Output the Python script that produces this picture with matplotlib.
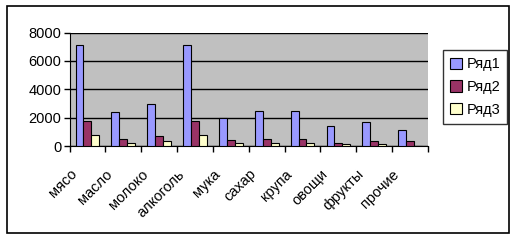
import matplotlib
matplotlib.use("Agg")
import matplotlib.pyplot as plt
import numpy as np
from matplotlib.patches import Rectangle

categories = ["мясо", "масло", "молоко", "алкоголь", "мука", "сахар", "крупа", "овощи", "фрукты", "прочие"]
series_names = ["Ряд1", "Ряд2", "Ряд3"]
row1 = [7100, 2400, 2950, 7100, 1950, 2450, 2450, 1400, 1670, 1100]
row2 = [1750, 470, 700, 1750, 420, 470, 470, 190, 330, 330]
row3 = [780, 190, 350, 780, 190, 190, 190, 120, 120, 0]
yticks = [0, 2000, 4000, 6000, 8000]

colors = ["#9999FF", "#993366", "#FFFFCC"]

plt.rcParams['font.family'] = ['Liberation Sans', 'DejaVu Sans']

W, H = 518, 240
fig = plt.figure(figsize=(W/100, H/100), dpi=100)
fig.patch.set_facecolor("white")

# outer border
fig.add_artist(Rectangle((7/W, 1 - 233/H), (509-7)/W, (233-6)/H, transform=fig.transFigure,
                         fill=False, edgecolor="black", linewidth=1.2))

ax = fig.add_axes([69.5/W, 1 - 146/H, (428-69.5)/W, (146-32.5)/H])
ax.set_facecolor("#C0C0C0")

n = len(categories)
x = np.arange(n) + 0.5
bw = 0.22
for k, (vals, col, name) in enumerate(zip([row1, row2, row3], colors, series_names)):
    ax.bar(x + (k - 1) * bw, vals, width=bw, color=col, edgecolor="black", linewidth=0.8,
           label=name, zorder=3)

ax.set_xlim(0, n)
ax.set_ylim(0, 8000)
ax.set_yticks(yticks)
ax.set_yticklabels([str(v) for v in yticks], fontsize=10.5)
ax.yaxis.grid(True, color="black", linewidth=1, zorder=1)
ax.set_axisbelow(True)
ax.set_xticks(np.arange(n + 1))
ax.set_xticklabels([])
ax.tick_params(axis="x", which="major", length=4, direction="out", width=1)
ax.tick_params(axis="y", length=4, direction="out", width=1, pad=2)
for s in ["top", "right"]:
    ax.spines[s].set_visible(False)
ax.spines["left"].set_color("black")
ax.spines["bottom"].set_color("black")

for xi, lab in zip(x, categories):
    ax.annotate(lab, xy=(xi, 0), xycoords=("data", "axes fraction"),
                xytext=(-18, -21), textcoords="offset pixels",
                rotation=45, ha="right", va="top", rotation_mode="anchor",
                fontsize=10.5, annotation_clip=False)

leg = fig.legend(loc="upper left", bbox_to_anchor=(443/W, 1 - 50/H), fontsize=10.5,
                 frameon=True, fancybox=False, edgecolor="black", handlelength=0.8,
                 handleheight=0.8, handletextpad=0.3, borderpad=0.5, labelspacing=0.6,
                 borderaxespad=0)
leg.get_frame().set_linewidth(1)

fig.savefig("out.png", dpi=100)
